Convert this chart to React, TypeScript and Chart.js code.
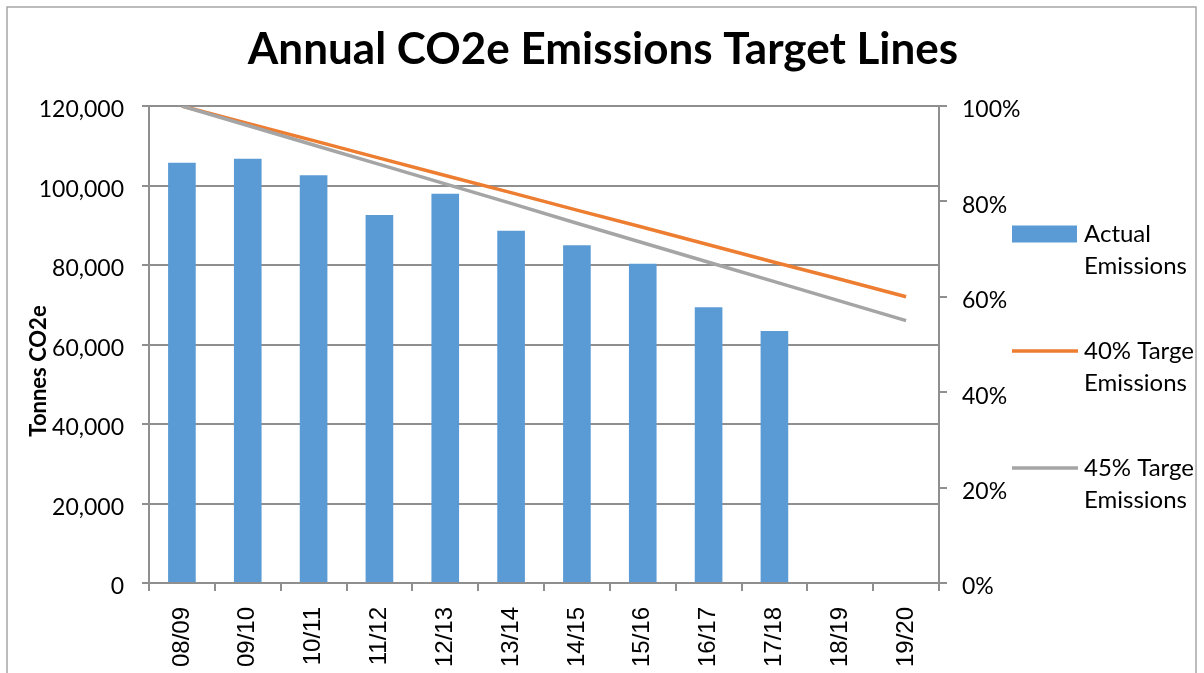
import React, { useEffect, useRef } from "react";
import { Chart, registerables } from "chart.js";

Chart.register(...registerables);

const categories = ["08/09", "09/10", "10/11", "11/12", "12/13", "13/14", "14/15", "15/16", "16/17", "17/18", "18/19", "19/20"];
const actualEmissions = [105700, 106700, 102600, 92600, 97900, 88600, 85000, 80300, 69400, 63400, null, null];
const target40 = [120000, 115600, 111300, 106900, 102500, 98200, 93800, 89500, 85100, 80700, 76400, 72000];
const target45 = [120000, 115100, 110200, 105300, 100400, 95500, 90500, 85600, 80700, 75800, 70900, 66000];
const seriesLabels = ["Actual Emissions", "40% Target Emissions", "45% Target Emissions"];
const titleText = "Annual CO2e Emissions Target Lines";
const yTitleText = "Tonnes CO2e";

const GRID = "#8f8f8f";

const decor = {
  id: "decor",
  beforeDraw(chart: any) {
    const ctx = chart.ctx;
    ctx.save();
    ctx.fillStyle = "#ffffff";
    ctx.fillRect(0, 0, chart.width, chart.height);
    ctx.strokeStyle = "#a6a6a6";
    ctx.lineWidth = 1.5;
    ctx.strokeRect(7, 7, 1189, 720);
    ctx.restore();
  },
  afterDraw(chart: any) {
    const ctx = chart.ctx;
    ctx.save();
    // title
    ctx.fillStyle = "#000";
    ctx.font = "bold 44px Lato";
    ctx.textAlign = "center";
    ctx.textBaseline = "middle";
    ctx.fillText(titleText, 603, 50);
    // y title
    ctx.save();
    ctx.translate(39, 371);
    ctx.rotate(-Math.PI / 2);
    ctx.font = "bold 22px Lato";
    ctx.fillText(yTitleText, 0, 0);
    ctx.restore();
    // legend
    ctx.beginPath();
    ctx.rect(0, 0, 1194, chart.height);
    ctx.clip();
    const ys = [234, 351, 468];
    chart.data.datasets.forEach((ds: any, i: number) => {
      const y = ys[i];
      if (ds.type === "line") {
        ctx.strokeStyle = ds.borderColor;
        ctx.lineWidth = 3.5;
        ctx.beginPath();
        ctx.moveTo(1012, y);
        ctx.lineTo(1078, y);
        ctx.stroke();
      } else {
        ctx.fillStyle = ds.backgroundColor;
        ctx.fillRect(1012, y - 8.5, 65, 17);
      }
      const label: string = ds.label;
      const k = label.lastIndexOf(" ");
      ctx.fillStyle = "#000";
      ctx.font = "24px Lato";
      ctx.textAlign = "left";
      ctx.textBaseline = "middle";
      ctx.fillText(label.slice(0, k), 1084, y);
      ctx.fillText(label.slice(k + 1), 1084, y + 32);
    });
    ctx.restore();
  },
};

export default function App() {
  const ref = useRef<HTMLCanvasElement>(null);
  useEffect(() => {
    const chart = new Chart(ref.current as HTMLCanvasElement, {
      type: "bar",
      data: {
        labels: categories,
        datasets: [
          {
            type: "bar",
            label: seriesLabels[0],
            data: actualEmissions as any,
            backgroundColor: "#5B9BD5",
            barPercentage: 0.42,
            categoryPercentage: 1,
            yAxisID: "y",
            order: 2,
          },
          {
            type: "line",
            label: seriesLabels[1],
            data: target40,
            borderColor: "#ED7D31",
            backgroundColor: "#ED7D31",
            borderWidth: 3.5,
            pointRadius: 0,
            yAxisID: "y",
            order: 1,
          },
          {
            type: "line",
            label: seriesLabels[2],
            data: target45,
            borderColor: "#A5A5A5",
            backgroundColor: "#A5A5A5",
            borderWidth: 3.5,
            pointRadius: 0,
            yAxisID: "y",
            order: 0,
          },
        ] as any,
      },
      options: {
        responsive: false,
        animation: false,
        devicePixelRatio: 1,
        layout: { padding: { top: 106, left: 0, right: 0, bottom: 0 } },
        plugins: { legend: { display: false }, title: { display: false }, tooltip: { enabled: false } },
        scales: {
          x: {
            type: "category",
            offset: true,
            grid: { drawOnChartArea: false, drawTicks: true, tickLength: 8, offset: true, color: GRID, lineWidth: 2 },
            border: { display: true, color: GRID, width: 2 },
            ticks: {
              autoSkip: false,
              maxRotation: 90,
              minRotation: 90,
              padding: 16,
              color: "#000",
              font: { family: "Liberation Sans", size: 24 },
            },
            afterFit: (s: any) => {
              s.height = 90;
            },
          },
          y: {
            position: "left",
            min: 0,
            max: 120000,
            ticks: {
              stepSize: 20000,
              padding: 18,
              labelOffset: 4,
              color: "#000",
              font: { family: "Lato", size: 23 },
              callback: (v: any) => Number(v).toLocaleString("en-US"),
            },
            grid: { color: GRID, lineWidth: 2, tickLength: 7 },
            border: { display: true, color: GRID, width: 2 },
            afterFit: (s: any) => {
              s.width = 149;
            },
          },
          y1: {
            position: "right",
            min: 0,
            max: 100,
            ticks: {
              stepSize: 20,
              padding: 15,
              labelOffset: 4,
              color: "#000",
              font: { family: "Lato", size: 23 },
              callback: (v: any) => v + "%",
            },
            grid: { drawOnChartArea: false, color: GRID, lineWidth: 2, tickLength: 8 },
            border: { display: true, color: GRID, width: 2 },
            afterFit: (s: any) => {
              s.width = 265;
            },
          },
        },
      } as any,
      plugins: [decor],
    });
    return () => chart.destroy();
  }, []);
  return (
    <div style={{ position: "absolute", left: 0, top: 0, width: 1204, height: 673, overflow: "hidden" }}>
      <canvas ref={ref} width={1204} height={673} style={{ display: "block" }} />
    </div>
  );
}
